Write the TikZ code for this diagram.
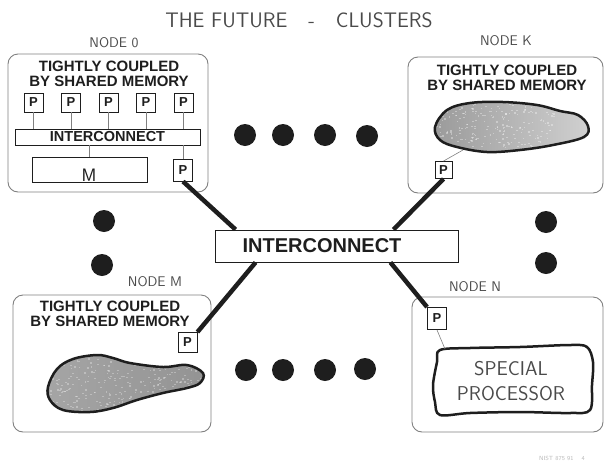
\documentclass[tikz,border=0pt]{standalone}
\usepackage{fontspec}
\setmainfont{Liberation Sans}
\usetikzlibrary{calc}
\definecolor{ink}{HTML}{1E1E1E}
\definecolor{boxgray}{HTML}{808080}
\definecolor{lighttext}{HTML}{4A4A4A}
\begin{document}
\begin{tikzpicture}[x=1pt,y=-1pt,
  cluster/.style={draw=boxgray, line width=0.9pt, rounded corners=10pt, inner sep=0pt},
  pbox/.style={draw=ink, line width=0.9pt, fill=white, minimum width=19pt, minimum height=20pt, inner sep=0pt, text=ink, font=\fontsize{13}{13}\selectfont\bfseries},
  barbox/.style={draw=ink, line width=0.9pt, fill=white, inner sep=0pt, text=ink},
  boldlbl/.style={align=center, text=ink, font=\fontsize{15}{15}\selectfont\bfseries},
  nodelbl/.style={text=lighttext, font=\fontsize{14}{14}\selectfont\sffamily},
  thin/.style={draw=boxgray, line width=0.6pt},
  thick/.style={draw=ink, line width=4.5pt},
  dot/.style={circle, fill=ink, minimum size=22pt, inner sep=0pt},
  outline/.style={draw=ink, line width=2.5pt}
]
\useasboundingbox (0,0) rectangle (605,464);

% title
\node[text=lighttext, font=\fontsize{21}{21}\selectfont\sffamily] (title) at (299,20) {THE FUTURE\quad-\quad CLUSTERS};

% cluster boxes
\node[cluster, minimum width=200pt, minimum height=138pt] (n0) at (108,123) {};
\node[cluster, minimum width=195pt, minimum height=136pt] (nk) at (505.5,125) {};
\node[cluster, minimum width=198pt, minimum height=137pt] (nm) at (112,363.5) {};
\node[cluster, minimum width=191pt, minimum height=135pt] (nn) at (507.5,364.5) {};

% node labels
\node[nodelbl] (l0) at (114,43) {NODE 0};
\node[nodelbl] (lk) at (506,41) {NODE K};
\node[nodelbl] (lm) at (155,282) {NODE M};
\node[nodelbl] (ln) at (475,287) {NODE N};

% tightly coupled labels
\node[boldlbl] (t0) at (109,73.5) {TIGHTLY COUPLED\\BY SHARED MEMORY};
\node[boldlbl] (tk) at (507,77.5) {TIGHTLY COUPLED\\BY SHARED MEMORY};
\node[boldlbl] (tm) at (110,314) {TIGHTLY COUPLED\\BY SHARED MEMORY};

% node 0 internals
\node[barbox, minimum width=185pt, minimum height=16pt, font=\fontsize{14.5}{14.5}\selectfont\bfseries] (bar) at (107.5,137) {INTERCONNECT};
\node[barbox, minimum width=115pt, minimum height=25pt] (mem) at (89.5,169.5) {};
\node[text=ink, font=\fontsize{18}{18}\selectfont\sffamily] (mlbl) at (89,175) {M};
\foreach \i/\x in {1/33.5,2/71,3/108.5,4/146,5/183.5}{
  \node[pbox, minimum height=19pt] (p\i) at (\x,102.5) {P};
  \draw[thin] (p\i.south) -- (p\i.south |- bar.north);
}
\node[pbox, minimum height=22pt] (p0b) at (183,170) {P};
\draw[thin] (p0b.north) -- (p0b.north |- bar.south);
\draw[thin] (mem.north) -- (mem.north |- bar.south);

% node K internals
\begin{scope}
  \clip plot[smooth cycle, tension=0.6] coordinates {(435,127) (447,110) (470,103) (503,102) (537,105) (560,111) (578,115) (588,126) (584,137) (553,145) (520,150) (487,152) (457,147) (440,140)};
  \shade[left color=gray!80, right color=gray!35] (430,95) rectangle (595,160);
  \pgfmathsetseed{11}
  \foreach \k in {1,...,260}{
    \pgfmathsetmacro\rx{435+rnd*120}
    \pgfmathsetmacro\ry{100+rnd*55}
    \fill[white, opacity=0.35] (\rx,\ry) rectangle ++(1.6,1.2);
  }
\end{scope}
\draw[outline] plot[smooth cycle, tension=0.6] coordinates {(435,127) (447,110) (470,103) (503,102) (537,105) (560,111) (578,115) (588,126) (584,137) (553,145) (520,150) (487,152) (457,147) (440,140)};
\node[pbox, minimum width=17pt, minimum height=17pt] (pk) at (443.5,170) {P};
\coordinate (bk) at (463,150);
\draw[thin] (pk.north) -- (bk);

% node M internals
\begin{scope}
  \clip plot[smooth cycle, tension=0.6] coordinates {(48,387) (57,369) (73,359) (97,355) (113,358) (130,363) (163,367) (187,365) (203,373) (200,383) (187,388) (163,393) (137,400) (113,408) (90,412) (63,410) (50,400)};
  \shade[left color=gray!70, right color=gray!85] (40,350) rectangle (210,420);
  \pgfmathsetseed{5}
  \foreach \k in {1,...,320}{
    \pgfmathsetmacro\rx{48+rnd*155}
    \pgfmathsetmacro\ry{352+rnd*62}
    \fill[white, opacity=0.3] (\rx,\ry) rectangle ++(1.8,1.2);
  }
\end{scope}
\draw[outline] plot[smooth cycle, tension=0.6] coordinates {(48,387) (57,369) (73,359) (97,355) (113,358) (130,363) (163,367) (187,365) (203,373) (200,383) (187,388) (163,393) (137,400) (113,408) (90,412) (63,410) (50,400)};
\node[pbox] (pm) at (187.5,342.5) {P};

% node N internals
\draw[outline, fill=white] plot[smooth cycle, tension=0.55] coordinates {(440,350) (470,348) (520,347) (570,345) (587,347) (593,362) (592,385) (590,410) (570,413) (520,412) (470,413) (440,415) (435,402) (433,385) (437,362)};
\node[text=lighttext, align=center, font=\fontsize{20}{25}\selectfont\sffamily] (sp) at (511,381) {SPECIAL\\PROCESSOR};
\node[pbox, minimum height=22pt] (pn) at (437,318.5) {P};
\coordinate (bn) at (445,349);
\draw[thin] (pn.south) -- (bn);

% central interconnect
\node[barbox, minimum width=243pt, minimum height=32pt] (ic) at (336.5,246) {};
\node[text=ink, font=\fontsize{20}{20}\selectfont\bfseries] (ict) at (322,246) {INTERCONNECT};
\coordinate (icnw) at ($(ic.north west)+(21,0)$);
\coordinate (icne) at ($(ic.north east)+(-65,0)$);
\coordinate (icsw) at ($(ic.south west)+(41,0)$);
\coordinate (icse) at ($(ic.south east)+(-68,0)$);
\draw[thick] (p0b.south) -- (icnw);
\draw[thick] (pk.south) -- (icne);
\draw[thick] (icsw) -- (pm.north east);
\draw[thick] (icse) -- (pn.north west);

% dots
\foreach \n/\x/\y in {a/245/135,b/283/135,c/325/135,d/367/136,
                      e/246/370,f/283/370,g/325/370,h/365/369,
                      i/104/221,j/102/265,k/546/222,l/546/263}{
  \node[dot] (d\n) at (\x,\y) {};
}

% footer
\node[text=gray!55, font=\fontsize{6}{6}\selectfont\sffamily] (foot) at (562,458) {NIST 875 91 \quad 4};
\end{tikzpicture}
\end{document}
